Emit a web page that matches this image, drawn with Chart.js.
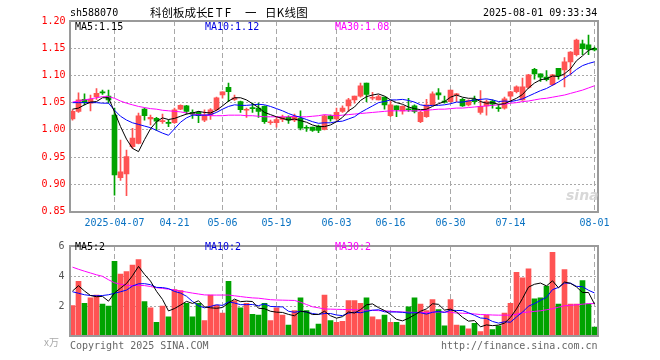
<!DOCTYPE html>
<html><head><meta charset="utf-8">
<script src="https://cdn.jsdelivr.net/npm/chart.js@4.4.1/dist/chart.umd.min.js"></script>
<style>
html,body{margin:0;padding:0;background:#fff;}
#wrap{position:relative;width:660px;height:360px;overflow:hidden;background:#fff;}
canvas{position:absolute;left:0;}
.t{position:absolute;font-family:'DejaVu Sans Mono',monospace;font-size:10px;line-height:12px;white-space:pre;z-index:5;}
.c{position:absolute;font-family:'Noto Sans CJK SC';font-size:11.5px;line-height:14px;white-space:pre;z-index:5;color:#000;top:5px;}
</style></head><body>
<div id="wrap">
<canvas id="kc" style="top:0;width:660px;height:235px"></canvas>
<canvas id="vc" style="top:235px;width:660px;height:112px"></canvas>
<div class="t" style="left:70px;top:7px;color:#000">sh588070</div>
<div class="c" style="left:150px">科创板成长</div>
<div class="c" style="left:207px;letter-spacing:2px">ETF</div>
<div class="c" style="left:245px">一</div>
<div class="c" style="left:265px;letter-spacing:0.3px">日K线图</div>
<div class="t" style="left:483px;top:7px;color:#000">2025-08-01 09:33:34</div>
<div class="t" style="left:75px;top:21px;color:#000">MA5:1.15</div>
<div class="t" style="left:205px;top:21px;color:#0000e0">MA10:1.12</div>
<div class="t" style="left:335px;top:21px;color:#ff00ff">MA30:1.08</div>
<div class="t" style="left:75px;top:241px;color:#000">MA5:2</div>
<div class="t" style="left:205px;top:241px;color:#0000e0">MA10:2</div>
<div class="t" style="left:335px;top:241px;color:#ff00ff">MA30:2</div>
<div class="t" style="left:44px;top:336px;color:#aaa;font-family:'Noto Sans CJK SC';font-size:10px">x万</div>
<div class="t" style="left:70px;top:340px;color:#666">Copyright 2025 SINA.COM</div>
<div class="t" style="left:441px;top:340px;color:#666">http://finance.sina.com.cn</div>
<div class="t" style="left:566px;top:189px;color:#d8d8d8;font-family:'DejaVu Sans';font-size:14px;font-weight:bold;font-style:italic;z-index:1">sina</div>
</div>
<script>
const dates = ['2025-03-26','2025-03-27','2025-03-28','2025-03-31','2025-04-01','2025-04-02','2025-04-03','2025-04-07','2025-04-08','2025-04-09','2025-04-10','2025-04-11','2025-04-14','2025-04-15','2025-04-16','2025-04-17','2025-04-18','2025-04-21','2025-04-22','2025-04-23','2025-04-24','2025-04-25','2025-04-28','2025-04-29','2025-04-30','2025-05-06','2025-05-07','2025-05-08','2025-05-09','2025-05-12','2025-05-13','2025-05-14','2025-05-15','2025-05-16','2025-05-19','2025-05-20','2025-05-21','2025-05-22','2025-05-23','2025-05-26','2025-05-27','2025-05-28','2025-05-29','2025-05-30','2025-06-03','2025-06-04','2025-06-05','2025-06-06','2025-06-09','2025-06-10','2025-06-11','2025-06-12','2025-06-13','2025-06-16','2025-06-17','2025-06-18','2025-06-19','2025-06-20','2025-06-23','2025-06-24','2025-06-25','2025-06-26','2025-06-27','2025-06-30','2025-07-01','2025-07-02','2025-07-03','2025-07-04','2025-07-07','2025-07-08','2025-07-09','2025-07-10','2025-07-11','2025-07-14','2025-07-15','2025-07-16','2025-07-17','2025-07-18','2025-07-21','2025-07-22','2025-07-23','2025-07-24','2025-07-25','2025-07-28','2025-07-29','2025-07-30','2025-07-31','2025-08-01'];
const openPrice = [1.020,1.034,1.056,1.049,1.061,1.069,1.062,1.027,0.912,0.919,0.969,0.975,1.038,1.020,1.021,1.015,1.014,1.013,1.038,1.044,1.032,1.032,1.018,1.027,1.037,1.064,1.078,1.056,1.052,1.036,1.041,1.040,1.043,1.013,1.013,1.019,1.023,1.018,1.021,1.004,1.005,1.007,1.001,1.026,1.020,1.034,1.044,1.055,1.062,1.086,1.058,1.055,1.060,1.026,1.044,1.035,1.038,1.044,1.015,1.024,1.046,1.068,1.052,1.052,1.064,1.056,1.046,1.056,1.032,1.044,1.053,1.040,1.040,1.062,1.070,1.055,1.078,1.111,1.103,1.097,1.083,1.113,1.110,1.125,1.138,1.158,1.156,1.150];
const highPrice = [1.037,1.068,1.066,1.064,1.076,1.073,1.073,1.040,0.981,0.963,1.003,1.031,1.040,1.027,1.023,1.029,1.018,1.040,1.046,1.045,1.037,1.034,1.037,1.039,1.060,1.070,1.086,1.064,1.053,1.040,1.049,1.049,1.044,1.018,1.024,1.027,1.026,1.029,1.035,1.008,1.005,1.009,1.027,1.027,1.040,1.044,1.058,1.062,1.086,1.086,1.069,1.064,1.060,1.053,1.044,1.044,1.058,1.046,1.034,1.056,1.070,1.076,1.062,1.073,1.067,1.058,1.055,1.062,1.072,1.055,1.055,1.046,1.060,1.071,1.081,1.095,1.102,1.113,1.103,1.109,1.102,1.113,1.133,1.144,1.167,1.165,1.174,1.152];
const lowPrice = [1.018,1.032,1.046,1.035,1.056,1.065,1.049,0.880,0.907,0.879,0.966,0.974,1.018,1.009,0.999,1.012,1.006,1.012,1.037,1.029,1.021,1.013,1.015,1.019,1.035,1.058,1.052,1.054,1.032,1.023,1.032,1.023,1.012,1.010,1.005,1.015,1.012,1.015,1.000,0.997,0.997,0.995,1.000,1.016,1.018,1.032,1.034,1.049,1.060,1.052,1.055,1.055,1.038,1.024,1.024,1.029,1.034,1.031,1.013,1.023,1.045,1.056,1.049,1.051,1.052,1.043,1.044,1.047,1.029,1.027,1.040,1.034,1.038,1.052,1.068,1.054,1.076,1.093,1.089,1.090,1.081,1.093,1.079,1.102,1.136,1.138,1.138,1.145];
const closePrice = [1.034,1.055,1.050,1.056,1.067,1.068,1.055,0.917,0.923,0.951,0.985,1.026,1.026,1.023,1.016,1.017,1.012,1.037,1.045,1.034,1.029,1.026,1.027,1.037,1.059,1.070,1.070,1.059,1.037,1.037,1.039,1.034,1.015,1.014,1.019,1.023,1.018,1.024,1.003,1.003,0.999,0.999,1.026,1.020,1.032,1.040,1.055,1.062,1.081,1.065,1.059,1.061,1.046,1.046,1.037,1.043,1.037,1.034,1.032,1.046,1.066,1.064,1.051,1.073,1.066,1.044,1.054,1.052,1.043,1.052,1.047,1.039,1.057,1.070,1.079,1.079,1.101,1.103,1.097,1.092,1.101,1.099,1.125,1.143,1.165,1.149,1.148,1.147];
const ma5 = [1.038,1.040,1.046,1.051,1.052,1.059,1.059,1.033,1.006,0.983,0.966,0.960,0.982,1.002,1.015,1.022,1.019,1.021,1.025,1.029,1.031,1.034,1.032,1.031,1.036,1.044,1.053,1.059,1.059,1.055,1.048,1.041,1.032,1.028,1.024,1.021,1.018,1.020,1.017,1.014,1.009,1.006,1.006,1.009,1.015,1.023,1.035,1.042,1.054,1.061,1.064,1.066,1.062,1.055,1.050,1.047,1.042,1.039,1.037,1.038,1.043,1.048,1.052,1.060,1.064,1.060,1.058,1.058,1.052,1.049,1.050,1.047,1.048,1.053,1.058,1.065,1.077,1.086,1.092,1.094,1.099,1.098,1.103,1.112,1.127,1.136,1.146,1.150];
const ma10 = [1.050,1.050,1.050,1.050,1.050,1.049,1.049,1.036,1.025,1.018,1.013,1.010,1.007,1.004,0.999,0.994,0.990,1.002,1.014,1.022,1.027,1.027,1.027,1.028,1.032,1.038,1.043,1.046,1.045,1.045,1.046,1.047,1.046,1.043,1.039,1.035,1.030,1.026,1.023,1.019,1.015,1.012,1.013,1.013,1.015,1.016,1.020,1.024,1.032,1.038,1.044,1.050,1.052,1.055,1.055,1.056,1.054,1.051,1.046,1.044,1.045,1.045,1.046,1.048,1.051,1.051,1.053,1.055,1.056,1.057,1.055,1.052,1.053,1.052,1.054,1.057,1.062,1.067,1.072,1.076,1.082,1.088,1.095,1.102,1.111,1.118,1.122,1.125];
const ma30 = [1.051,1.053,1.055,1.057,1.059,1.061,1.061,1.058,1.053,1.049,1.046,1.043,1.041,1.039,1.038,1.036,1.035,1.034,1.033,1.031,1.029,1.028,1.027,1.026,1.026,1.026,1.027,1.027,1.027,1.026,1.026,1.025,1.024,1.024,1.024,1.024,1.024,1.025,1.024,1.024,1.025,1.026,1.028,1.027,1.026,1.027,1.028,1.029,1.030,1.031,1.032,1.033,1.034,1.035,1.035,1.035,1.035,1.035,1.035,1.036,1.037,1.038,1.038,1.039,1.040,1.040,1.041,1.042,1.043,1.044,1.045,1.046,1.047,1.049,1.050,1.052,1.053,1.055,1.057,1.058,1.060,1.062,1.064,1.067,1.070,1.073,1.077,1.081];
const volume = [2.02,3.64,2.18,2.55,2.73,2.12,2.00,4.97,4.12,4.30,4.73,5.09,2.30,1.88,0.91,2.00,1.27,3.09,3.03,2.18,1.27,2.18,1.03,2.73,2.06,1.52,3.64,2.36,1.88,2.18,1.45,1.39,2.18,1.03,1.88,1.39,0.73,1.70,2.55,1.70,0.48,0.79,2.73,1.03,0.91,0.97,2.36,2.36,2.18,2.55,1.27,1.09,1.39,0.91,0.91,0.73,1.94,2.55,2.12,1.70,2.42,1.76,0.67,2.42,0.73,0.67,0.48,0.85,0.30,1.39,0.42,0.67,1.52,2.18,4.24,3.88,4.48,2.48,2.55,3.33,5.58,2.12,4.42,2.12,2.12,3.70,2.12,0.59];
const volMa5 = [3.00,3.35,3.00,2.70,2.62,2.64,2.32,2.87,3.19,3.50,4.02,4.64,4.11,3.66,2.98,2.44,1.67,1.83,2.06,2.31,2.17,2.35,1.94,1.88,1.85,1.90,2.20,2.46,2.29,2.32,2.30,1.85,1.82,1.65,1.59,1.57,1.44,1.35,1.65,1.61,1.43,1.44,1.65,1.35,1.19,1.29,1.60,1.53,1.76,2.08,2.14,1.89,1.70,1.44,1.11,1.01,1.18,1.41,1.65,1.81,2.15,2.11,1.73,1.79,1.60,1.25,0.99,1.03,0.61,0.74,0.69,0.73,0.86,1.24,1.81,2.50,3.26,3.45,3.53,3.34,3.68,3.21,3.60,3.51,3.27,2.90,2.90,2.13];
const volMa10 = [2.95,2.85,2.75,2.70,2.68,2.70,2.75,2.85,2.95,3.06,3.33,3.48,3.49,3.42,3.24,3.23,3.16,2.97,2.86,2.65,2.30,2.01,1.88,1.97,2.08,2.04,2.27,2.20,2.09,2.09,2.10,2.02,2.14,1.97,1.95,1.94,1.65,1.58,1.65,1.60,1.50,1.44,1.50,1.50,1.40,1.36,1.52,1.59,1.55,1.64,1.72,1.75,1.61,1.60,1.60,1.58,1.53,1.55,1.55,1.46,1.58,1.64,1.57,1.72,1.70,1.70,1.55,1.38,1.20,1.17,0.97,0.86,0.95,0.92,1.27,1.59,1.99,2.16,2.38,2.58,3.09,3.24,3.53,3.52,3.31,3.29,3.05,2.87];
const volMa30 = [4.59,4.45,4.32,4.20,4.08,3.98,3.75,3.55,3.45,3.38,3.37,3.37,3.36,3.30,3.22,3.17,3.12,3.07,3.00,2.93,2.86,2.80,2.74,2.73,2.73,2.73,2.73,2.68,2.63,2.58,2.54,2.52,2.47,2.42,2.40,2.39,2.38,2.37,2.25,2.10,1.95,1.88,1.80,1.79,1.78,1.77,1.76,1.75,1.73,1.72,1.71,1.69,1.68,1.65,1.62,1.60,1.59,1.57,1.56,1.57,1.59,1.60,1.60,1.58,1.53,1.52,1.50,1.47,1.43,1.42,1.40,1.39,1.39,1.39,1.45,1.56,1.60,1.64,1.68,1.75,1.82,1.92,2.02,2.05,2.08,2.12,2.16,2.16];
const tickDates = ['2025-04-07','2025-04-21','2025-05-06','2025-05-19','2025-06-03','2025-06-16','2025-06-30','2025-07-14','2025-08-01'];
const tickLabels = ['2025-04-07','04-21','05-06','05-19','06-03','06-16','06-30','07-14','08-01'];
const priceRange = [0.85, 1.20, 0.05];
const volumeRange = [0, 6, 2];

const UP = '#ff5353', DOWN = '#00a300';
const GRID = '#a8a8a8', FRAME = '#9a9a9a';
const MONO = 'DejaVu Sans Mono';
const upDown = closePrice.map((c, i) => c >= openPrice[i] ? UP : DOWN);
const labelAt = i => { const k = tickDates.indexOf(dates[i]); return k < 0 ? '' : tickLabels[k]; };

const framePlugin = {
  id: 'frame',
  afterDatasetsDraw(chart) {
    const { ctx, chartArea: a } = chart;
    ctx.save();
    ctx.strokeStyle = FRAME;
    ctx.lineWidth = 2;
    ctx.strokeRect(Math.round(a.left), Math.round(a.top), Math.round(a.right) - Math.round(a.left), Math.round(a.bottom) - Math.round(a.top));
    ctx.restore();
  }
};

function xScale(showLabels, height) {
  return {
    type: 'category', offset: true,
    grid: { offset: false, drawTicks: false, lineWidth: 1,
      color: c => (c.tick && labelAt(c.index) !== '') ? GRID : 'rgba(0,0,0,0)' },
    border: { display: false, dash: [5, 3] },
    ticks: { display: showLabels, autoSkip: false, maxRotation: 0, minRotation: 0, padding: 6,
      color: '#0a72c2', font: { family: MONO, size: 10 }, callback: (v, i) => labelAt(i) },
    afterFit: s => { s.height = height; }
  };
}
function lineDs(data, color) {
  return { type: 'line', data, borderColor: color, borderWidth: 1, pointRadius: 0, tension: 0, order: 0, fill: false };
}

new Chart(document.getElementById('kc'), {
  type: 'bar',
  data: {
    labels: dates,
    datasets: [
      lineDs(ma5, '#000000'), lineDs(ma10, '#0000ff'), lineDs(ma30, '#ff00ff'),
      { data: dates.map((d, i) => [lowPrice[i], highPrice[i]]), backgroundColor: upDown, barThickness: 1, grouped: false, order: 2, borderWidth: 0 },
      { data: dates.map((d, i) => [openPrice[i], closePrice[i]]), backgroundColor: upDown, barThickness: 5, grouped: false, order: 1, minBarLength: 1, borderWidth: 0 }
    ]
  },
  options: {
    responsive: false, animation: false, devicePixelRatio: 1,
    layout: { padding: { left: 0, right: 62.5, top: 21, bottom: 0 } },
    plugins: { legend: { display: false }, tooltip: { enabled: false } },
    scales: {
      x: xScale(true, 23.5),
      y: { min: priceRange[0], max: priceRange[1],
        grid: { drawTicks: false, lineWidth: 1,
          color: c => (c.tick && c.tick.value > priceRange[0] + 0.001 && c.tick.value < priceRange[1] - 0.001) ? GRID : 'rgba(0,0,0,0)' },
        border: { display: false, dash: [2, 2] },
        ticks: { stepSize: priceRange[2], padding: 4, color: '#ff0000', font: { family: MONO, size: 10 },
          callback: v => Number(v).toFixed(2) },
        afterFit: s => { s.width = 69.5; } }
    }
  },
  plugins: [framePlugin]
});

new Chart(document.getElementById('vc'), {
  type: 'bar',
  data: {
    labels: dates,
    datasets: [
      lineDs(volMa5, '#000000'), lineDs(volMa10, '#0000ff'), lineDs(volMa30, '#ff00ff'),
      { data: volume, backgroundColor: upDown, barThickness: 5, grouped: false, order: 1, borderWidth: 0 }
    ]
  },
  options: {
    responsive: false, animation: false, devicePixelRatio: 1,
    layout: { padding: { left: 0, right: 62.5, top: 5.5, bottom: 7 } },
    plugins: { legend: { display: false }, tooltip: { enabled: false } },
    scales: {
      x: xScale(false, 0),
      y: { min: volumeRange[0], max: volumeRange[1],
        grid: { drawTicks: false, lineWidth: 1,
          color: c => (c.tick && c.tick.value > volumeRange[0] && c.tick.value < volumeRange[1]) ? GRID : 'rgba(0,0,0,0)' },
        border: { display: false, dash: [2, 2] },
        ticks: { stepSize: volumeRange[2], padding: 5, color: '#555555', font: { family: MONO, size: 10 },
          callback: v => v === 0 ? '' : String(v) },
        afterFit: s => { s.width = 69.5; } }
    }
  },
  plugins: [framePlugin]
});
</script>
</body></html>
